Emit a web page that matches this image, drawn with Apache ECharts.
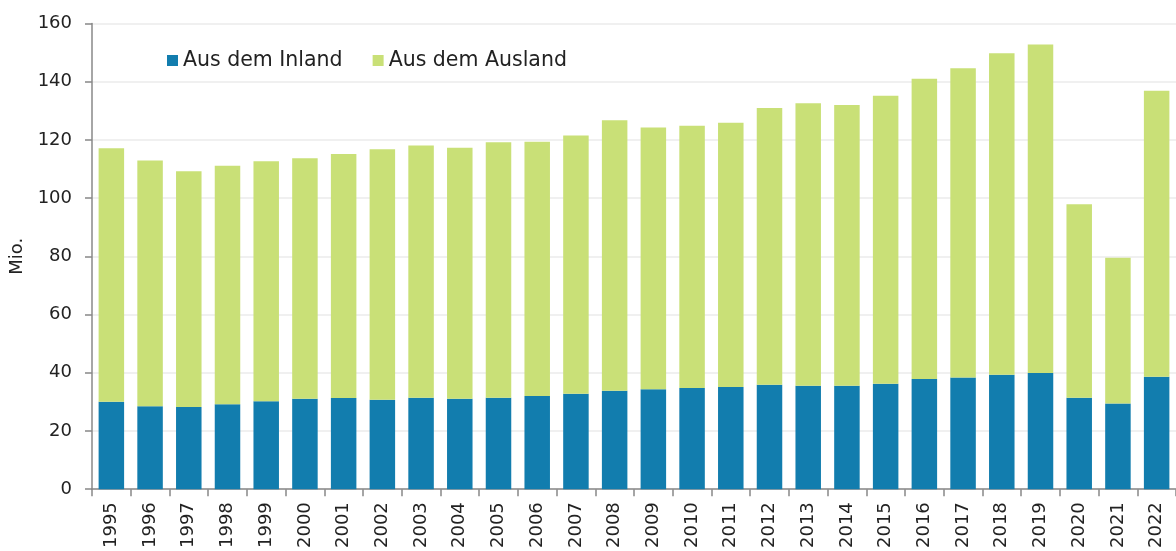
<!DOCTYPE html>
<html>
<head>
<meta charset="utf-8">
<script src="https://cdn.jsdelivr.net/npm/echarts@6/dist/echarts.min.js"></script>
<style>
	html, body { margin: 0; padding: 0; background: #fff; }
	#chart { width: 1176px; height: 551px; }
</style>
</head>
<body>
<div id="chart"></div>
<script>
	// Jahre
	var years = ['1995','1996','1997','1998','1999','2000','2001','2002','2003','2004',
		'2005','2006','2007','2008','2009','2010','2011','2012','2013','2014',
		'2015','2016','2017','2018','2019','2020','2021','2022'];
	// Mio., aus dem Inland
	var inland = [30.0, 28.5, 28.2, 29.2, 30.2, 31.1, 31.3, 30.7, 31.4, 31.1,
		31.4, 32.0, 32.8, 33.8, 34.3, 34.8, 35.1, 35.9, 35.5, 35.5,
		36.2, 37.9, 38.4, 39.3, 39.9, 31.4, 29.4, 38.6];
	// Mio., aus dem Ausland
	var ausland = [87.1, 84.4, 81.0, 81.9, 82.5, 82.6, 83.9, 86.1, 86.7, 86.2,
		87.8, 87.4, 88.7, 93.0, 90.0, 90.1, 90.8, 95.1, 97.1, 96.5,
		99.0, 103.1, 106.2, 110.5, 112.9, 66.5, 50.1, 98.3];
	var yTicks = [0, 20, 40, 60, 80, 100, 120, 140, 160];

	var chart = echarts.init(document.getElementById('chart'), null, {renderer: 'canvas'});
	var font = 'DejaVu Sans';

	var option = {
		animation: false,
		textStyle: {fontFamily: font, color: '#222'},
		grid: {
			left: 92,
			top: 23.5,
			height: 470,
			width: 39 * years.length //letzte Säule wird abgeschnitten
		},
		legend: {
			left: 162,
			top: 45,
			itemWidth: 11,
			itemHeight: 11,
			itemGap: 30,
			icon: 'rect',
			textStyle: {fontFamily: font, fontSize: 20.5, color: '#222'},
			data: ['Aus dem Inland', 'Aus dem Ausland']
		},
		xAxis: {
			type: 'category',
			data: years,
			axisLine: {lineStyle: {color: '#888', width: 1.5}},
			axisTick: {show: true, length: 7, alignWithLabel: false, lineStyle: {color: '#888', width: 1.5}},
			axisLabel: {
				rotate: 90,
				margin: 13,
				interval: 0,
				fontFamily: font,
				fontSize: 18,
				color: '#222'
			}
		},
		yAxis: {
			type: 'value',
			min: yTicks[0],
			max: yTicks[yTicks.length - 1],
			interval: 20,
			name: 'Mio.',
			nameLocation: 'middle',
			nameGap: 58,
			nameTextStyle: {fontFamily: font, fontSize: 18, color: '#222'},
			axisLine: {show: true, lineStyle: {color: '#888', width: 1.5}},
			axisTick: {show: true, length: 7, lineStyle: {color: '#888', width: 1.5}},
			axisLabel: {margin: 20, fontFamily: font, fontSize: 18, color: '#222'},
			splitLine: {lineStyle: {color: '#f0f0f0', width: 2}}
		},
		series: [
			{
				name: 'Aus dem Inland',
				type: 'bar',
				stack: 'gesamt',
				barWidth: 25.5,
				data: inland,
				itemStyle: {color: '#127DAE'}
			},
			{
				name: 'Aus dem Ausland',
				type: 'bar',
				stack: 'gesamt',
				barWidth: 25.5,
				data: ausland,
				itemStyle: {color: '#C9E077'}
			}
		]
	};
	chart.setOption(option);
</script>
</body>
</html>
